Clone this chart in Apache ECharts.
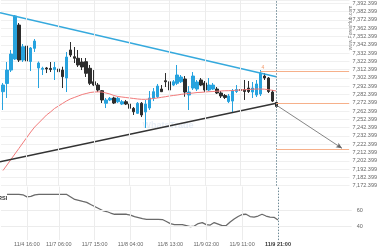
<!DOCTYPE html>
<html><head><meta charset="utf-8">
<script src="https://cdn.jsdelivr.net/npm/echarts@6/dist/echarts.min.js"></script>
<style>html,body{margin:0;padding:0;background:#fff}#c{width:380px;height:250px}</style>
</head><body><div id="c"></div>
<script>
// [open, close, low, high]
const candles = [
[7285.8,7293.8,7263.7,7296.3],[7295.7,7311.9,7278.2,7321.6],[7311.9,7331.2,7309.5,7336.1],[7325.2,7377.1,7324.0,7378.3],
[7366.2,7324.0,7321.6,7368.6],[7324.0,7340.0,7321.6,7343.3],[7340.9,7322.8,7321.6,7343.3],[7322.2,7338.5,7310.7,7339.7],
[7338.1,7346.9,7333.7,7349.3],[7314.4,7320.4,7290.2,7322.2],[7312.8,7314.0,7305.9,7315.9],[7314.4,7313.2,7308.3,7315.6],
[7313.8,7312.5,7309.5,7321.6],[7312.5,7315.0,7299.9,7321.6],[7313.2,7309.9,7308.3,7316.8],[7311.9,7303.9,7290.2,7315.9],
[7302.3,7327.6,7285.4,7333.7],[7336.1,7330.0,7327.6,7345.7],[7328.0,7326.1,7320.4,7339.7],[7326.1,7318.0,7315.6,7336.1],
[7321.6,7315.6,7311.9,7326.4],[7322.0,7308.0,7303.5,7326.4],[7314.0,7295.9,7293.8,7318.0],[7297.8,7293.8,7292.6,7311.9],
[7293.8,7287.8,7285.4,7296.3],[7287.0,7275.8,7272.1,7287.8],[7271.8,7275.8,7266.1,7278.2],[7275.8,7277.8,7274.5,7279.4],
[7278.2,7272.1,7270.9,7279.7],[7273.7,7277.8,7272.1,7279.4],[7270.9,7273.7,7269.7,7275.8],[7273.7,7270.9,7269.7,7275.8],
[7270.9,7265.7,7264.9,7272.1],[7265.7,7261.6,7257.7,7267.3],[7259.7,7271.8,7258.9,7273.3],[7271.8,7257.7,7255.2,7273.3],
[7261.3,7270.9,7242.0,7275.8],[7266.1,7278.2,7263.7,7286.6],[7278.2,7285.8,7274.5,7290.2],[7279.7,7292.6,7278.2,7295.1],
[7289.0,7285.8,7285.4,7293.8],[7299.0,7297.8,7291.4,7308.3],[7297.8,7287.8,7286.6,7308.3],[7293.8,7297.8,7292.6,7299.9],
[7295.9,7305.9,7293.8,7318.0],[7297.8,7303.5,7296.3,7305.9],[7301.1,7285.4,7279.7,7304.7],[7281.8,7285.4,7263.7,7292.6],
[7290.2,7304.7,7287.8,7309.5],[7289.0,7297.5,7286.6,7299.9],[7299.9,7293.8,7292.6,7302.3],[7296.3,7287.8,7285.4,7298.7],
[7287.8,7293.8,7286.6,7302.3],[7289.0,7293.8,7287.8,7296.3],[7289.0,7284.2,7283.0,7291.4],[7284.2,7280.6,7278.2,7286.6],
[7281.2,7278.8,7277.0,7283.0],[7273.9,7280.6,7272.1,7283.0],[7274.5,7286.6,7261.3,7289.0],[7286.0,7288.4,7284.2,7293.8],
[7288.4,7287.2,7281.8,7297.5],[7288.4,7286.0,7275.8,7299.9],[7290.2,7286.0,7284.2,7298.7],[7285.4,7290.2,7278.2,7297.5],
[7281.8,7295.1,7279.4,7299.9],[7283.0,7308.3,7280.6,7311.9],[7304.7,7302.3,7299.9,7308.3],[7302.3,7286.0,7284.2,7303.5],
[7285.4,7274.5,7273.3,7287.8],[7272.7,7267.9,7266.1,7273.3]
];
const maValues = [
7190.7,7197.3,7204.0,7210.6,7217.2,7223.9,7230.5,7237.1,7243.2,7248.0,
7252.8,7257.7,7261.3,7265.5,7268.5,7271.5,7274.5,7277.0,7278.8,7280.6,
7282.4,7283.6,7284.8,7285.4,7285.6,7285.4,7284.2,7283.0,7281.2,7280.0,
7279.4,7278.8,7278.2,7277.6,7277.0,7276.6,7276.6,7277.0,7277.6,7278.2,
7279.0,7279.7,7280.6,7281.2,7281.8,7282.6,7283.2,7283.8,7284.2,7284.8,
7285.0,7285.4,7285.8,7286.0,7286.4,7286.6,7286.9,7287.0,7287.2,7287.6,
7287.8,7288.2,7288.4,7288.8,7289.0,7289.0,7288.8,7288.2,7287.5,7286.6
];
const rsiValues = [
'-',78.6,78.6,78.6,78.6,78.2,75.8,76.2,78.0,78.6,
78.6,78.6,78.6,78.6,78.6,78.6,78.6,75.6,72.6,71.4,
70.2,69.2,66.6,64.2,61.8,59.4,58.2,56.4,54.9,54.9,
54.9,54.9,54.0,52.2,51.0,49.8,48.9,48.9,48.9,48.9,
48.6,46.2,43.8,42.6,42.6,42.6,41.4,40.0,40.8,43.8,
45.0,42.6,42.0,45.0,43.2,41.2,41.4,45.6,49.2,52.2,
54.6,54.9,52.2,51.6,52.8,54.9,52.8,51.6,51.3,48.0
];
const xTickLabels = ['11/4 16:00','11/7 06:00','11/7 15:00','11/8 04:00','11/8 13:00','11/9 02:00','11/9 11:00','11/9 21:00'];
const xTickIndex = [6,14,23,32,42,51,60,69];
const totalSlots = 88;
const priceMin = 7172.399, priceMax = 7396.4, priceStep = 10, priceTop = 7392.399;
const rsiMin = 24, rsiMax = 88, rsiTicks = [40, 60];
const upperTrend = [[-0.75, 7381.1], [69, 7303.9]];
const lowerTrend = [[-0.75, 7201.3], [69, 7271.8]];
const resistanceLevel = 7310.4, resistanceStart = 65;
const breakLevel = 7271.3, targetLevel = 7216.3, nowIndex = 69;
const projection = [[69, 7269.7], [85.6, 7217.5]];

const categories = Array.from({length: totalSlots}, (_, i) => String(i));
const labelMap = {};
xTickIndex.forEach((k, j) => { labelMap[k] = xTickLabels[j]; });

function fmtPrice(v) {
  const k = (v - priceMin) / priceStep;
  const r = Math.round(k);
  if (Math.abs(k - r) > 0.01) return '';
  const val = priceMin + r * priceStep;
  if (val > priceTop + 0.01) return '';
  const s = val.toFixed(3).split('.');
  return s[0].replace(/\B(?=(\d{3})+(?!\d))/g, ',') + '.' + s[1];
}

const FONT = 'Liberation Sans, Arial, sans-serif';
const chart = echarts.init(document.getElementById('c'), null, {renderer: 'canvas'});
const gridLine = {color: '#ececec', width: 1, type: 'solid'};
const nowLine = {color: '#6f8a96', width: 1, type: [1.5, 1.5]};
const vLines = xTickIndex.filter(k => k !== nowIndex).map(k => ({xAxis: k, lineStyle: gridLine}))
  .concat([{xAxis: nowIndex, lineStyle: nowLine}]);
const orange = '#f6b08a';

chart.setOption({
  animation: false,
  backgroundColor: '#fff',
  grid: [
    {left: 1, right: 28.3, top: 0, height: 185.7},
    {left: 1, right: 28.3, top: 186.6, height: 53.5}
  ],
  xAxis: [
    {type: 'category', gridIndex: 0, data: categories, boundaryGap: true,
     axisLine: {show: false}, axisTick: {show: false}, axisLabel: {show: false}, splitLine: {show: false}},
    {type: 'category', gridIndex: 1, data: categories, boundaryGap: true,
     axisLine: {show: false}, axisTick: {show: false}, splitLine: {show: false},
     axisLabel: {show: true, interval: (i) => labelMap[i] !== undefined, margin: 1,
       fontSize: 5.5, color: '#666', fontFamily: FONT,
       formatter: (v, i) => { const t = labelMap[i] || ''; return i === nowIndex ? '{b|' + t + '}' : t; },
       rich: {b: {fontWeight: 'bold', color: '#333', fontSize: 5.5, fontFamily: FONT}}}},
    {type: 'value', gridIndex: 0, min: -0.5, max: totalSlots - 0.5, show: false},
    {type: 'value', gridIndex: 1, min: -0.5, max: totalSlots - 0.5, show: false}
  ],
  yAxis: [
    {type: 'value', gridIndex: 0, position: 'right', min: priceMin, max: priceMax, interval: priceStep,
     axisLine: {show: false}, axisTick: {show: false},
     splitLine: {show: true, lineStyle: {color: '#f0f0f0', width: 1}},
     axisLabel: {margin: 3, fontSize: 5.5, color: '#666', fontFamily: FONT, formatter: fmtPrice, showMaxLabel: false}},
    {type: 'value', gridIndex: 1, position: 'right', min: rsiMin, max: rsiMax,
     axisLine: {show: false}, axisTick: {show: false}, splitLine: {show: false},
     axisLabel: {margin: 5, fontSize: 5.5, color: '#666', fontFamily: FONT, customValues: rsiTicks}}
  ],
  series: [
    {type: 'line', xAxisIndex: 2, yAxisIndex: 0, data: [], z: 0, silent: true,
     markLine: {silent: true, symbol: ['none','none'], label: {show: false}, animation: false, data: vLines}},
    {type: 'line', xAxisIndex: 3, yAxisIndex: 1, data: [], z: 0, silent: true,
     markLine: {silent: true, symbol: ['none','none'], label: {show: false}, animation: false,
       data: vLines.concat(rsiTicks.map(v => ({yAxis: v, lineStyle: gridLine})))}},
    {type: 'candlestick', xAxisIndex: 0, yAxisIndex: 0, data: candles, barWidth: 3, z: 2,
     itemStyle: {color: '#27a3df', color0: '#2d2d2d', borderColor: '#27a3df', borderColor0: '#2d2d2d', borderWidth: 1}},
    {type: 'line', xAxisIndex: 0, yAxisIndex: 0, data: maValues, symbol: 'none', z: 3,
     lineStyle: {color: '#f27b7b', width: 1}},
    {type: 'line', xAxisIndex: 2, yAxisIndex: 0, data: upperTrend, symbol: 'none', z: 4,
     lineStyle: {color: '#35a9dd', width: 1.5}},
    {type: 'line', xAxisIndex: 2, yAxisIndex: 0, data: lowerTrend, symbol: 'none', z: 4,
     lineStyle: {color: '#333', width: 1.5}},
    {type: 'line', xAxisIndex: 2, yAxisIndex: 0, data: [], z: 4, silent: true,
     markLine: {silent: true, animation: false, symbol: ['none','none'], label: {show: false},
       data: [
         [{coord: [resistanceStart, resistanceLevel], lineStyle: {color: orange, width: 1, type: 'solid'},
           label: {show: true, position: 'insideStartTop', formatter: '4', color: '#f39a6a', fontSize: 5, distance: 1}},
          {coord: [totalSlots - 0.6, resistanceLevel]}],
         [{coord: [nowIndex, breakLevel], lineStyle: {color: orange, width: 1, type: 'solid'}}, {coord: [totalSlots - 0.6, breakLevel]}],
         [{coord: [nowIndex, targetLevel], lineStyle: {color: orange, width: 1, type: 'solid'}}, {coord: [totalSlots - 0.6, targetLevel]}],
         [{coord: projection[0], symbol: 'none', lineStyle: {color: '#666', width: 0.8, type: 'solid'}},
          {coord: projection[1], symbol: 'arrow', symbolSize: [4, 6]}]
       ]}},
    {type: 'line', xAxisIndex: 1, yAxisIndex: 1, data: rsiValues, symbol: 'none', z: 3,
     lineStyle: {color: '#6a6a6a', width: 1.3}}
  ],
  graphic: [
    {type: 'text', left: -2, top: 195, z: 10,
     style: {text: 'RSI', fontSize: 5.5, fontWeight: 'bold', fill: '#333', fontFamily: FONT}},
    {type: 'text', x: 351, y: 28, rotation: Math.PI / 2, z: 10,
     style: {text: 'www.ForexHub.com', fontSize: 5, fill: '#777', fontFamily: FONT, align: 'center', verticalAlign: 'middle'}},
    {type: 'text', x: 168, y: 126, z: 1,
     style: {text: 'WhatsTrade', fontSize: 9, fontWeight: 'bold', fill: 'rgba(120,160,210,0.18)', fontFamily: FONT, align: 'center', verticalAlign: 'middle'}}
  ]
});
</script></body></html>
